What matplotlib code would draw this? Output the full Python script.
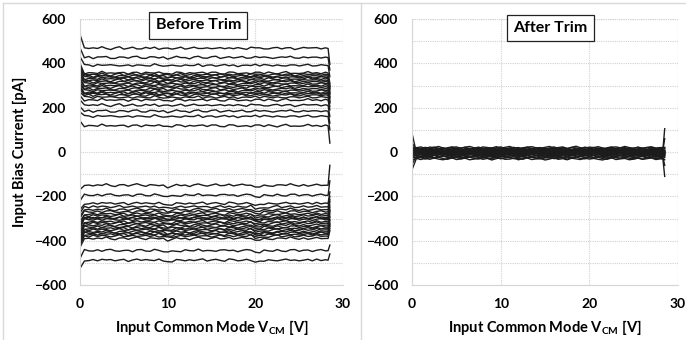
import numpy as np
import matplotlib
matplotlib.use("Agg")
import matplotlib.pyplot as plt
from matplotlib.ticker import MultipleLocator
from matplotlib.lines import Line2D

plt.rcParams['font.family'] = ['Lato', 'DejaVu Sans']
plt.rcParams['font.weight'] = 'bold'
plt.rcParams['mathtext.fontset'] = 'custom'
plt.rcParams['mathtext.rm'] = 'Lato:bold'
plt.rcParams['mathtext.it'] = 'Lato:bold'
plt.rcParams['mathtext.bf'] = 'Lato:bold'

# ---------------- data ----------------
x_start = 0.0
x_body_first, x_body_last = 0.5, 28.0
x_knee = 28.3
x_end = 28.5

# Before trim: flat levels (pA), value at VCM=0, value at VCM end
before_pos_levels = [467, 426, 390, 356, 348, 342, 336, 330, 322, 316, 308, 300,
                     292, 284, 276, 268, 262, 256, 246, 234, 210, 184, 160, 118]
before_pos_start = [530, 470, 430, 400, 390, 380, 370, 365, 360, 350, 340, 335,
                    325, 315, 305, 300, 290, 285, 270, 255, 235, 205, 180, 140]
before_pos_end = [395, 370, 340, 310, 300, 295, 290, 285, 280, 270, 265, 260,
                  250, 245, 240, 230, 225, 220, 205, 190, 160, 130, 100, 40]

before_neg_levels = [-150, -195, -232, -248, -260, -270, -280, -288, -296, -305, -315, -322,
                     -330, -338, -345, -352, -360, -366, -372, -380, -390, -445, -488, -300]
before_neg_start = [-170, -220, -260, -275, -290, -300, -315, -320, -335, -345, -355, -365,
                    -370, -380, -385, -395, -400, -410, -415, -420, -430, -480, -525, -330]
before_neg_end = [-60, -130, -180, -200, -215, -225, -240, -250, -260, -270, -280, -290,
                  -295, -305, -310, -320, -325, -330, -335, -345, -355, -420, -460, -265]

# After trim
after_levels = [-32, -28, -24, -21, -18, -15, -13, -11, -9, -7, -5, -4, -3,
                -2, -1, 0, 1, 3, 4, 6, 8, 10, 12, 14, 17, 20]
after_start = [-80, -35, -55, -25, -22, -18, -15, -12, -12, -8, -6, -5, -4,
               -3, -2, 85, 2, 4, 6, 8, 40, 11, 14, 16, 19, 22]
after_end = [-110, -35, -60, -25, -20, -16, -14, -12, -10, -8, -6, -5, -4,
             -2, -1, 0, 1, 4, 5, 7, 9, 60, 105, 15, 18, 21]

# common ripple along VCM (pA), sampled every 0.5 V from 0.5 to 28 V
ripple_pos_common = [0, 2, -1, 1, 3, 0, -2, 1, 2, -1,
                     0, 2, 1, -2, 0, 1, 3, 0, -1, -4,
                     -2, 1, 2, 0, -1, 1, 2, -1, 0, 3,
                     1, -2, 0, 1, 2, 0, -1, -2, 1, 3,
                     0, -1, 2, 1, -1, 0, 2, 1, -2, 0,
                     1, 3, 1, -1, 0, 2]
ripple_neg_common = [0, -2, 1, 0, -1, 2, 0, -1, 1, 0,
                     -1, 0, 2, 1, -1, 0, 1, 0, -3, -9,
                     -5, -1, 0, 1, -1, 0, 2, 1, -1, 0,
                     1, 0, -1, 2, 1, 0, -1, 1, 3, -10,
                     -8, -3, -1, 0, 1, -1, 0, 2, 0, -1,
                     1, 0, -1, 2, 1, 0]
ripple_a = [3, -2, 4, -1, 5, 0, -3, 2, 6, -2,
            1, 4, -3, 0, 5, -1, 3, -4, 2, 6,
            -1, 0, 4, -3, 2, 5, -2, 1, 3, -4,
            0, 6, -1, 2, -3, 4, 1, -2, 5, 0,
            3, -1, -4, 2, 6, -2, 1, 3, -3, 0,
            4, -1, 2, 5, -2, 1]
ripple_b = [-1, 3, -4, 2, 0, 5, -2, -5, 1, 3,
            -3, 2, 5, -1, -4, 3, 0, -2, 4, -3,
            1, 5, -2, 0, -5, 2, 4, -1, -3, 1,
            5, -2, 0, 3, -4, 1, 6, -1, -3, 2,
            0, 4, -2, -5, 1, 3, -1, 5, 0, -3,
            2, -4, 1, 3, -2, 0]
ripple_c = [5, 1, -3, 4, -2, 2, 6, 0, -4, 1,
            3, -5, 2, 4, -1, -3, 5, 1, -2, 3,
            4, -2, -5, 3, 1, -1, 5, -3, 2, 0,
            -4, 3, 5, -2, 1, -5, 2, 4, -1, 3,
            -2, 6, 0, -3, 4, -1, -4, 2, 5, -2,
            1, 3, -3, 0, 4, -1]
ripple_d = [-4, 0, 2, -3, 5, -1, 3, -2, 0, 4,
            -5, 1, 3, -2, 4, 0, -3, 5, -1, 2,
            -3, 4, 1, -4, 3, -2, 0, 5, -3, 1,
            3, -1, -4, 4, 2, -3, 0, 3, -5, 1,
            4, -2, 3, -1, -4, 2, 5, -3, 1, -2,
            -1, 4, -2, 3, -3, 2]
ripples = [ripple_a, ripple_b, ripple_c, ripple_d]

x_ticks = [0, 10, 20, 30]
y_ticks = [-600, -400, -200, 0, 200, 400, 600]

# ---------------- drawing ----------------
n_body = len(ripple_a)
x_body = np.linspace(x_body_first, x_body_last, n_body)
x_all = np.concatenate([[x_start], x_body, [x_knee, x_end]])


def curve(level, start, end, common, i):
    body = level + np.asarray(common) + np.asarray(ripples[i % 4])
    return np.concatenate([[start], body, [level, end]])


W, H = 686, 340
fig = plt.figure(figsize=(W / 100, H / 100), dpi=100)

ax1 = fig.add_axes([80 / W, 1 - 285 / H, 263 / W, 266 / H])
ax2 = fig.add_axes([412 / W, 1 - 285 / H, 266 / W, 266 / H])

lc = '#1c1c1c'
lw = 1.0
zero = [0] * n_body
for i, lv in enumerate(before_pos_levels):
    ax1.plot(x_all, curve(lv, before_pos_start[i], before_pos_end[i], ripple_pos_common, i),
             color=lc, lw=lw)
for i, lv in enumerate(before_neg_levels):
    ax1.plot(x_all, curve(lv, before_neg_start[i], before_neg_end[i], ripple_neg_common, i + 1),
             color=lc, lw=lw)
for i, lv in enumerate(after_levels):
    ax2.plot(x_all, curve(lv, after_start[i], after_end[i], zero, i),
             color=lc, lw=lw)

grid_c = '#d2d2d2'
for ax in (ax1, ax2):
    ax.set_xlim(0, 30)
    ax.set_ylim(-600, 600)
    ax.set_xticks(x_ticks)
    ax.set_yticks(y_ticks)
    ax.yaxis.set_minor_locator(MultipleLocator(100))
    ax.grid(True, which='both', axis='y', color=grid_c, lw=0.8, ls=(0, (1, 1)))
    ax.grid(True, which='major', axis='x', color=grid_c, lw=0.8, ls=(0, (1, 1)))
    ax.set_axisbelow(True)
    ax.tick_params(which='both', length=0, labelsize=10)
    ax.tick_params(axis='y', pad=10)
    ax.tick_params(axis='x', pad=9)
    for s in ('top', 'right'):
        ax.spines[s].set_visible(False)
    for s in ('left', 'bottom'):
        ax.spines[s].set_color('#d6d6d6')
        ax.spines[s].set_linewidth(0.8)
    ax.set_xlabel('Input Common Mode V$_{\\mathrm{CM}}$ [V]', fontsize=10.5, fontweight='bold',
                  labelpad=6)
    ax.axhline(600, color=grid_c, lw=0.8, ls=(0, (1, 1)), zorder=0)
    ax.axvline(30, color=grid_c, lw=0.8, ls=(0, (1, 1)), zorder=0)

ax1.set_ylabel('Input Bias Current [pA]', fontsize=10.5, fontweight='bold', labelpad=5)

box = dict(boxstyle='square,pad=0.4', facecolor='white', edgecolor='#222222', lw=0.9)
ax1.text(0.45, 0.976, 'Before Trim', transform=ax1.transAxes, ha='center', va='center',
         fontsize=11.5, fontweight='bold', bbox=box, zorder=5)
ax2.text(0.519, 0.966, 'After Trim', transform=ax2.transAxes, ha='center', va='center',
         fontsize=11.5, fontweight='bold', bbox=box, zorder=5)

# chart-area frames
fc = '#d9d9d9'
fig.add_artist(Line2D([3 / W, 3 / W], [0, 1 - 3 / H], transform=fig.transFigure, color=fc, lw=1))
fig.add_artist(Line2D([3 / W, 1], [1 - 3 / H, 1 - 3 / H], transform=fig.transFigure, color=fc, lw=1))
fig.add_artist(Line2D([361 / W, 361 / W], [0, 1 - 3 / H], transform=fig.transFigure, color=fc, lw=1))

fig.savefig('out.png', dpi=100)
